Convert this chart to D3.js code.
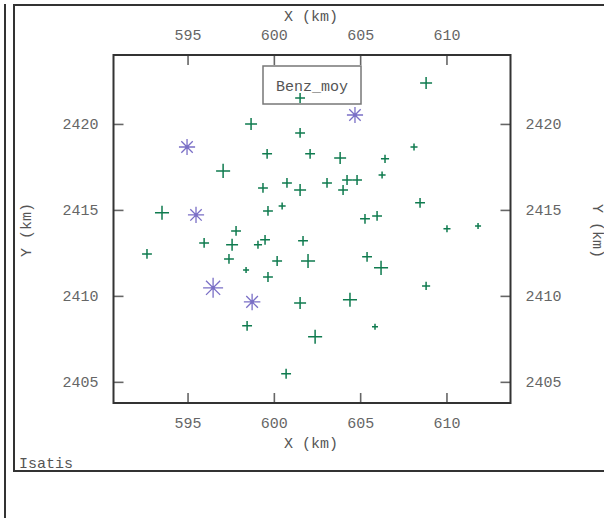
<!DOCTYPE html>
<html><head><meta charset="utf-8">
<script src="https://cdn.jsdelivr.net/npm/d3@7"></script>
<style>
html,body{margin:0;padding:0;background:#fff;}
svg{display:block;}
text{font-family:"Liberation Mono","DejaVu Sans Mono",monospace;}
</style></head>
<body>
<script>
// Sample X coordinates (km)
const xKm = [601.52,608.82,598.68,601.52,599.61,602.10,597.06,603.84,606.44,608.12,
  600.76,603.08,601.52,599.37,604.24,604.82,604.01,606.27,608.47,605.28,
  605.98,610.03,611.83,593.52,599.66,600.48,597.81,592.65,595.96,597.58,
  599.08,599.49,597.40,598.39,600.19,601.98,601.69,605.40,606.21,599.66,
  608.82,601.52,604.41,598.45,605.86,602.39,600.71,
  604.70,594.97,595.49,596.48,598.74];
// Sample Y coordinates (km)
const yKm = [2421.51,2422.38,2420.00,2419.48,2418.26,2418.26,2417.27,2418.02,2417.97,2418.66,
  2416.57,2416.57,2416.16,2416.28,2416.74,2416.74,2416.16,2417.03,2415.41,2414.48,
  2414.65,2413.90,2414.07,2414.83,2414.94,2415.23,2413.78,2412.44,2413.08,2412.97,
  2412.97,2413.26,2412.15,2411.51,2412.03,2412.03,2413.20,2412.27,2411.63,2411.10,
  2410.58,2409.59,2409.77,2408.26,2408.20,2407.62,2405.47,
  2420.52,2418.66,2414.71,2410.47,2409.65];
// Benz_moy values (estimated from symbol size)
const benzMoy = [2.1,2.7,2.7,2.1,2.1,2.1,3.3,2.7,1.6,1.3,
  2.1,2.1,2.7,2.1,2.1,2.1,2.1,1.3,2.1,2.1,
  2.1,1.3,1.0,3.3,2.1,1.3,2.1,2.1,2.1,2.7,
  1.6,2.1,2.1,1.0,2.1,3.3,2.1,2.1,3.3,2.1,
  1.6,2.7,3.3,2.1,1.0,3.3,2.1,
  3.9,3.9,3.9,5.0,4.0];
const xTicks = [595,600,605,610];
const yTicks = [2405,2410,2415,2420];
const varName = "Benz_moy";
const xTitle = "X (km)";
const yTitle = "Y (km)";
const footer = "Isatis";

const W = 604, H = 518;
const svg = d3.select("body").append("svg").attr("width", W).attr("height", H);

// frames
svg.append("line").attr("x1",5).attr("y1",4).attr("x2",5).attr("y2",H)
  .attr("stroke","#333").attr("stroke-width",2);
svg.append("path").attr("d","M610,5 H14 V471 H610")
  .attr("fill","none").attr("stroke","#333").attr("stroke-width",2);

const L = 113.5, R = 510.5, T = 55, B = 403;
const x = d3.scaleLinear().domain([590.71, 613.71]).range([L, R]);
const y = d3.scaleLinear().domain([2403.77, 2424.01]).range([B, T]);
const size = d3.scaleLinear().domain([1,5]).range([3,10]);

const tickCol = "#666", labCol = "#666", fs = 15;

// axes via d3 axis generators
function styleAxis(g){
  g.select(".domain").remove();
  g.selectAll(".tick line").attr("stroke",tickCol).attr("stroke-width",1.6);
  g.selectAll(".tick text").attr("fill",labCol).attr("font-size",fs)
    .attr("font-family","Liberation Mono, monospace");
}
svg.append("g").attr("transform",`translate(0,${B})`)
  .call(d3.axisBottom(x).tickValues(xTicks).tickSizeInner(-10).tickPadding(14).tickFormat(d3.format("d")))
  .call(styleAxis);
svg.append("g").attr("transform",`translate(0,${T})`)
  .call(d3.axisTop(x).tickValues(xTicks).tickSizeInner(-10).tickPadding(15).tickFormat(d3.format("d")))
  .call(styleAxis);
svg.append("g").attr("transform",`translate(${L},0)`)
  .call(d3.axisLeft(y).tickValues(yTicks).tickSizeInner(-10).tickPadding(15).tickFormat(d3.format("d")))
  .call(styleAxis);
svg.append("g").attr("transform",`translate(${R},0)`)
  .call(d3.axisRight(y).tickValues(yTicks).tickSizeInner(-10).tickPadding(15).tickFormat(d3.format("d")))
  .call(styleAxis);

// plot frame
svg.append("rect").attr("x",L).attr("y",T).attr("width",R-L).attr("height",B-T)
  .attr("fill","none").attr("stroke","#333").attr("stroke-width",2);

// titles
svg.append("text").attr("x",311).attr("y",21).attr("text-anchor","middle")
  .attr("font-size",fs).attr("fill","#555").text(xTitle);
svg.append("text").attr("x",311).attr("y",448).attr("text-anchor","middle")
  .attr("font-size",fs).attr("fill","#555").text(xTitle);
svg.append("text").attr("transform","translate(31,230) rotate(-90)").attr("text-anchor","middle")
  .attr("font-size",fs).attr("fill","#555").text(yTitle);
svg.append("text").attr("transform","translate(593,231) rotate(90)").attr("text-anchor","middle")
  .attr("font-size",fs).attr("fill","#555").text(yTitle);
svg.append("text").attr("x",19).attr("y",468)
  .attr("font-size",fs).attr("fill","#555").text(footer);

// legend box
svg.append("rect").attr("x",263).attr("y",66).attr("width",98).attr("height",38)
  .attr("fill","#fff").attr("stroke","#777").attr("stroke-width",1.5);
svg.append("text").attr("x",312).attr("y",91).attr("text-anchor","middle")
  .attr("font-size",fs).attr("fill","#555").text(varName);

// points
const pts = xKm.map((d,i)=>({x:d, y:yKm[i], v:benzMoy[i]}));
const green = "#0f7b4f", purple = "#7a6fc6";
const g = svg.append("g");
pts.forEach(p=>{
  const cx = x(p.x), cy = y(p.y), s = size(p.v);
  if (p.v < 3.6) {
    g.append("path").attr("d",`M${cx-s},${cy}H${cx+s}M${cx},${cy-s}V${cy+s}`)
      .attr("stroke",green).attr("stroke-width",1.5).attr("fill","none");
  } else {
    const k = s*0.7071;
    g.append("path").attr("d",`M${cx-s},${cy}H${cx+s}M${cx},${cy-s}V${cy+s}M${cx-k},${cy-k}L${cx+k},${cy+k}M${cx-k},${cy+k}L${cx+k},${cy-k}`)
      .attr("stroke",purple).attr("stroke-width",1.3).attr("fill","none");
    g.append("circle").attr("cx",cx).attr("cy",cy).attr("r",1.5).attr("fill",purple);
  }
});
</script>
</body></html>
